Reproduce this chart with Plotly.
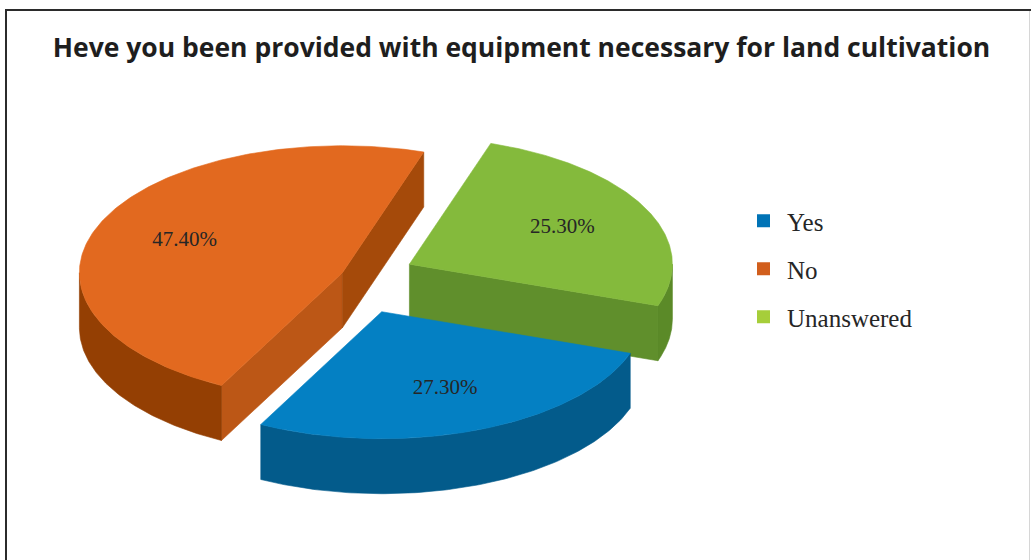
import numpy as np
import plotly.graph_objects as go

# ---- data ----
categories = ["Yes", "No", "Unanswered"]
shares = [27.3, 47.4, 25.3]
label_text = ["27.30%", "47.40%", "25.30%"]

# ---- styling ----
top_colors = ["#0480C3", "#E2691F", "#84BA3C"]
wall_colors = ["#035B8B", "#943F03", "#5B8A28"]
lead_face_colors = ["#02608F", "#BC5716", "#5F8F2C"]
trail_face_colors = ["#02608F", "#A54A0A", "#608F2C"]
legend_colors = ["#0073B6", "#D15E1C", "#A6CE3A"]
pull = [1.0, 0.75, 1.25]   # explosion factor of each slice

W, H = 1031, 560
CX, CY = 368, 282          # pie centre (pixels)
RX, RY = 263, 127          # projected radii of the tilted disc
DEPTH = 55                 # thickness of the disc
PULL_X, PULL_Y = 37, 32    # base explosion distance
START_DEG = -19.1          # first slice starts here, slices run clockwise
LABEL_R = 0.65

fig = go.Figure()


def rim(ax, ay, th):
    return ax + RX * np.cos(th), ay - RY * np.sin(th)


def poly(xs, ys, color):
    fig.add_trace(go.Scatter(
        x=list(xs), y=list(ys), mode="lines", fill="toself",
        fillcolor=color, line=dict(color=color, width=0.6),
        hoverinfo="skip", showlegend=False))


total = sum(shares)
slices = []
t = np.radians(START_DEG)
for i, s in enumerate(shares):
    span = 2 * np.pi * s / total
    t1, t2 = t, t - span          # clockwise: t1 > t2
    mid = (t1 + t2) / 2
    ax = CX + pull[i] * PULL_X * np.cos(mid)
    ay = CY - pull[i] * PULL_Y * np.sin(mid)
    slices.append(dict(i=i, t1=t1, t2=t2, mid=mid, ax=ax, ay=ay))
    t = t2

# paint from the back of the scene to the front
order = sorted(slices, key=lambda d: d["ay"] - RY * 0.5 * np.sin(d["mid"]))

for d in order:
    i, t1, t2, ax, ay = d["i"], d["t1"], d["t2"], d["ax"], d["ay"]

    # radial cut faces
    for phi, visible, col in ((t1, np.cos(t1) < 0, lead_face_colors[i]),
                              (t2, np.cos(t2) > 0, trail_face_colors[i])):
        if visible:
            rx, ry = rim(ax, ay, phi)
            poly([ax, rx, rx, ax, ax], [ay, ry, ry + DEPTH, ay + DEPTH, ay], col)

    # curved outer wall (front half only)
    for k in (-2, -1, 0, 1):
        lo = max(t2, -np.pi + 2 * np.pi * k)
        hi = min(t1, 2 * np.pi * k)
        if hi - lo > 1e-4:
            th = np.linspace(lo, hi, 120)
            xs, ys = rim(ax, ay, th)
            poly(np.concatenate([xs, xs[::-1], xs[:1]]),
                 np.concatenate([ys, ys[::-1] + DEPTH, ys[:1]]), wall_colors[i])

    # top face
    th = np.linspace(t1, t2, 200)
    xs, ys = rim(ax, ay, th)
    poly(np.concatenate([[ax], xs, [ax]]), np.concatenate([[ay], ys, [ay]]),
         top_colors[i])

# value labels
lx = [d["ax"] + LABEL_R * RX * np.cos(d["mid"]) for d in slices]
ly = [d["ay"] - LABEL_R * RY * np.sin(d["mid"]) for d in slices]
fig.add_trace(go.Scatter(
    x=lx, y=ly, mode="text", text=label_text,
    textfont=dict(family="Liberation Serif", size=21, color="#262626"),
    hoverinfo="skip", showlegend=False))

# legend entries
for name, col in zip(categories, legend_colors):
    fig.add_trace(go.Scatter(
        x=[None], y=[None], mode="markers", name=name, legendgroup=name,
        marker=dict(symbol="square", size=13, color=col)))

fig.update_layout(
    width=W, height=H,
    margin=dict(l=0, r=0, t=0, b=0),
    paper_bgcolor="white", plot_bgcolor="white",
    xaxis=dict(range=[0, W], visible=False, fixedrange=True),
    yaxis=dict(range=[H, 0], visible=False, fixedrange=True),
    title=dict(
        text="Heve you been provided with equipment necessary for land cultivation",
        x=521.5 / W, xanchor="center", y=1 - 48 / H, yanchor="middle",
        font=dict(family="Open Sans", size=26.5, color="#1E1E1E", weight="bold")),
    legend=dict(
        x=740 / W, xanchor="left", y=1 - 198 / H, yanchor="top",
        itemwidth=37, tracegroupgap=12.5,
        font=dict(family="Liberation Serif", size=25, color="#262626"),
        bgcolor="rgba(0,0,0,0)"),
    shapes=[
        dict(type="line", xref="x", yref="y", x0=6, x1=6, y0=9, y1=H,
             line=dict(color="#2B2B2B", width=2)),
        dict(type="line", xref="x", yref="y", x0=5, x1=W, y0=10, y1=10,
             line=dict(color="#2B2B2B", width=2)),
        dict(type="line", xref="x", yref="y", x0=1029.5, x1=1029.5, y0=11, y1=H,
             line=dict(color="#D6D6D6", width=1)),
    ],
)

fig.write_html("out.html")
